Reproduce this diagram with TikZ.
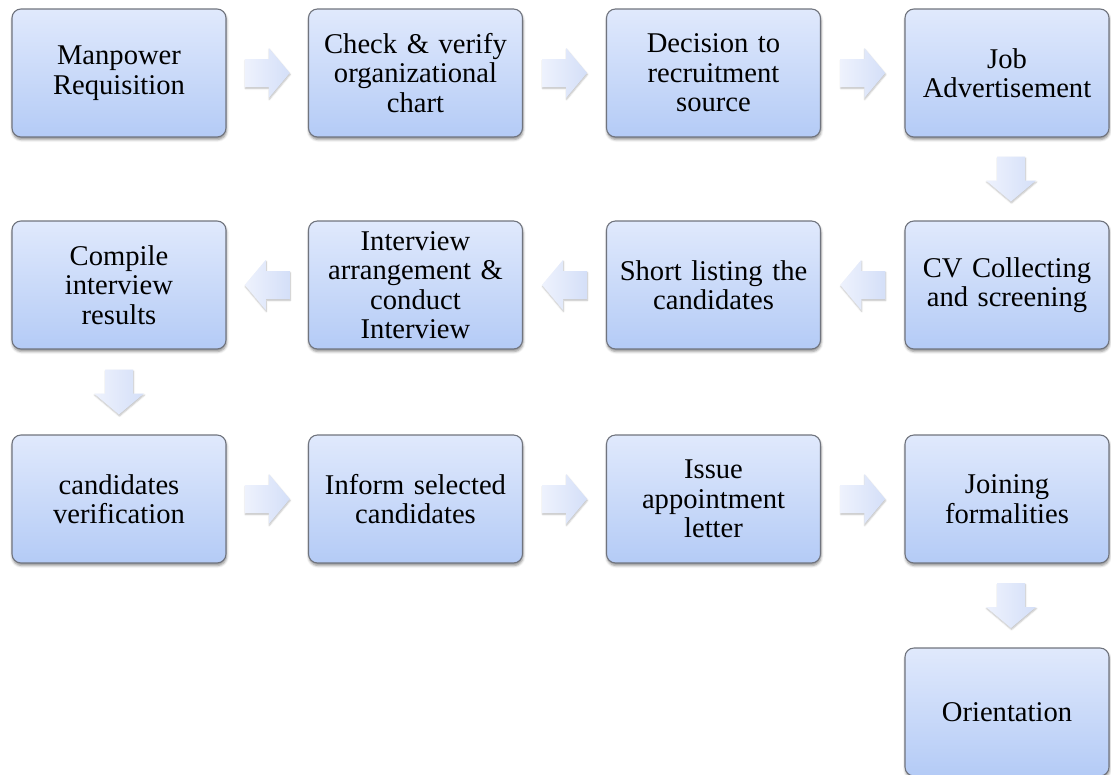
\documentclass[tikz,border=0pt]{standalone}
\usepackage{fontspec}
\setmainfont{Liberation Serif}
\usetikzlibrary{shadows.blur,calc}
\definecolor{boxtop}{RGB}{224,233,252}
\definecolor{boxbot}{RGB}{180,203,246}
\definecolor{boxline}{RGB}{112,116,126}
\definecolor{arrtop}{RGB}{238,242,253}
\definecolor{arrbot}{RGB}{212,223,248}
\tikzset{
  stepbox/.style={rectangle, rounded corners=9pt, draw=boxline, line width=1.1pt,
    top color=boxtop, bottom color=boxbot, minimum width=214pt, minimum height=128pt,
    inner sep=2pt, align=center, text width=204pt,
    font=\fontsize{28.6}{29.5}\selectfont,
    blur shadow={shadow xshift=0.5pt, shadow yshift=-2.5pt, shadow blur radius=2.5pt, shadow opacity=45}},
  narrowbox/.style={minimum width=204pt, text width=196pt},
  arrowfill/.style={draw=none, left color=arrtop, right color=arrbot,
    blur shadow={shadow xshift=0.5pt, shadow yshift=-1.5pt, shadow blur radius=1.5pt, shadow opacity=25}},
  blockarrow/.pic={\path[arrowfill] (-22.5,-14) -- (1.5,-14) -- (1.5,-25) -- (22.5,0)
      -- (1.5,25) -- (1.5,14) -- (-22.5,14) -- cycle;}
}
\begin{document}
\begin{tikzpicture}[x=1pt,y=-1pt]
\useasboundingbox (0,0) rectangle (1111,774);
% row 1
\node[stepbox] (b1) at (119,73) {Manpower\\Requisition};
\node[stepbox] (b2) at (415.5,73) {Check \& verify\\organizational\\chart};
\node[stepbox] (b3) at (713.5,73) {Decision to\\recruitment\\source};
\node[stepbox,narrowbox] (b4) at (1007,73) {Job\\Advertisement};
% row 2
\node[stepbox,narrowbox] (b5) at (1007,285) {CV Collecting\\and screening};
\node[stepbox] (b6) at (713.5,285) {Short listing the\\candidates};
\node[stepbox] (b7) at (415.5,285) {Interview\\arrangement \&\\conduct\\Interview};
\node[stepbox] (b8) at (119,285) {Compile\\interview\\results};
% row 3
\node[stepbox] (b9) at (119,499) {candidates\\verification};
\node[stepbox] (b10) at (415.5,499) {Inform selected\\candidates};
\node[stepbox] (b11) at (713.5,499) {Issue\\appointment\\letter};
\node[stepbox,narrowbox] (b12) at (1007,499) {Joining\\formalities};
% row 4
\node[stepbox,narrowbox] (b13) at (1007,712) {Orientation};
% arrow anchors
\coordinate (m1) at ($(b1.east)!0.5!(b2.west)$);
\coordinate (m2) at ($(b2.east)!0.5!(b3.west)$);
\coordinate (m3) at ($(b3.east)!0.5!(b4.west)$);
\coordinate (m4) at ($(b4.south)!0.5!(b5.north)+(4,0)$);
\coordinate (m5) at ($(b5.west)!0.5!(b6.east)$);
\coordinate (m6) at ($(b6.west)!0.5!(b7.east)$);
\coordinate (m7) at ($(b7.west)!0.5!(b8.east)$);
\coordinate (m8) at ($(b8.south)!0.5!(b9.north)$);
\coordinate (m9) at ($(b9.east)!0.5!(b10.west)$);
\coordinate (m10) at ($(b10.east)!0.5!(b11.west)$);
\coordinate (m11) at ($(b11.east)!0.5!(b12.west)$);
\coordinate (m12) at ($(b12.south)!0.5!(b13.north)+(4,0)$);
% arrows
\pic at (m1) {blockarrow};
\pic at (m2) {blockarrow};
\pic at (m3) {blockarrow};
\pic[rotate=-90] at (m4) {blockarrow};
\pic[rotate=180] at (m5) {blockarrow};
\pic[rotate=180] at (m6) {blockarrow};
\pic[rotate=180] at (m7) {blockarrow};
\pic[rotate=-90] at (m8) {blockarrow};
\pic at (m9) {blockarrow};
\pic at (m10) {blockarrow};
\pic at (m11) {blockarrow};
\pic[rotate=-90] at (m12) {blockarrow};
\end{tikzpicture}
\end{document}
